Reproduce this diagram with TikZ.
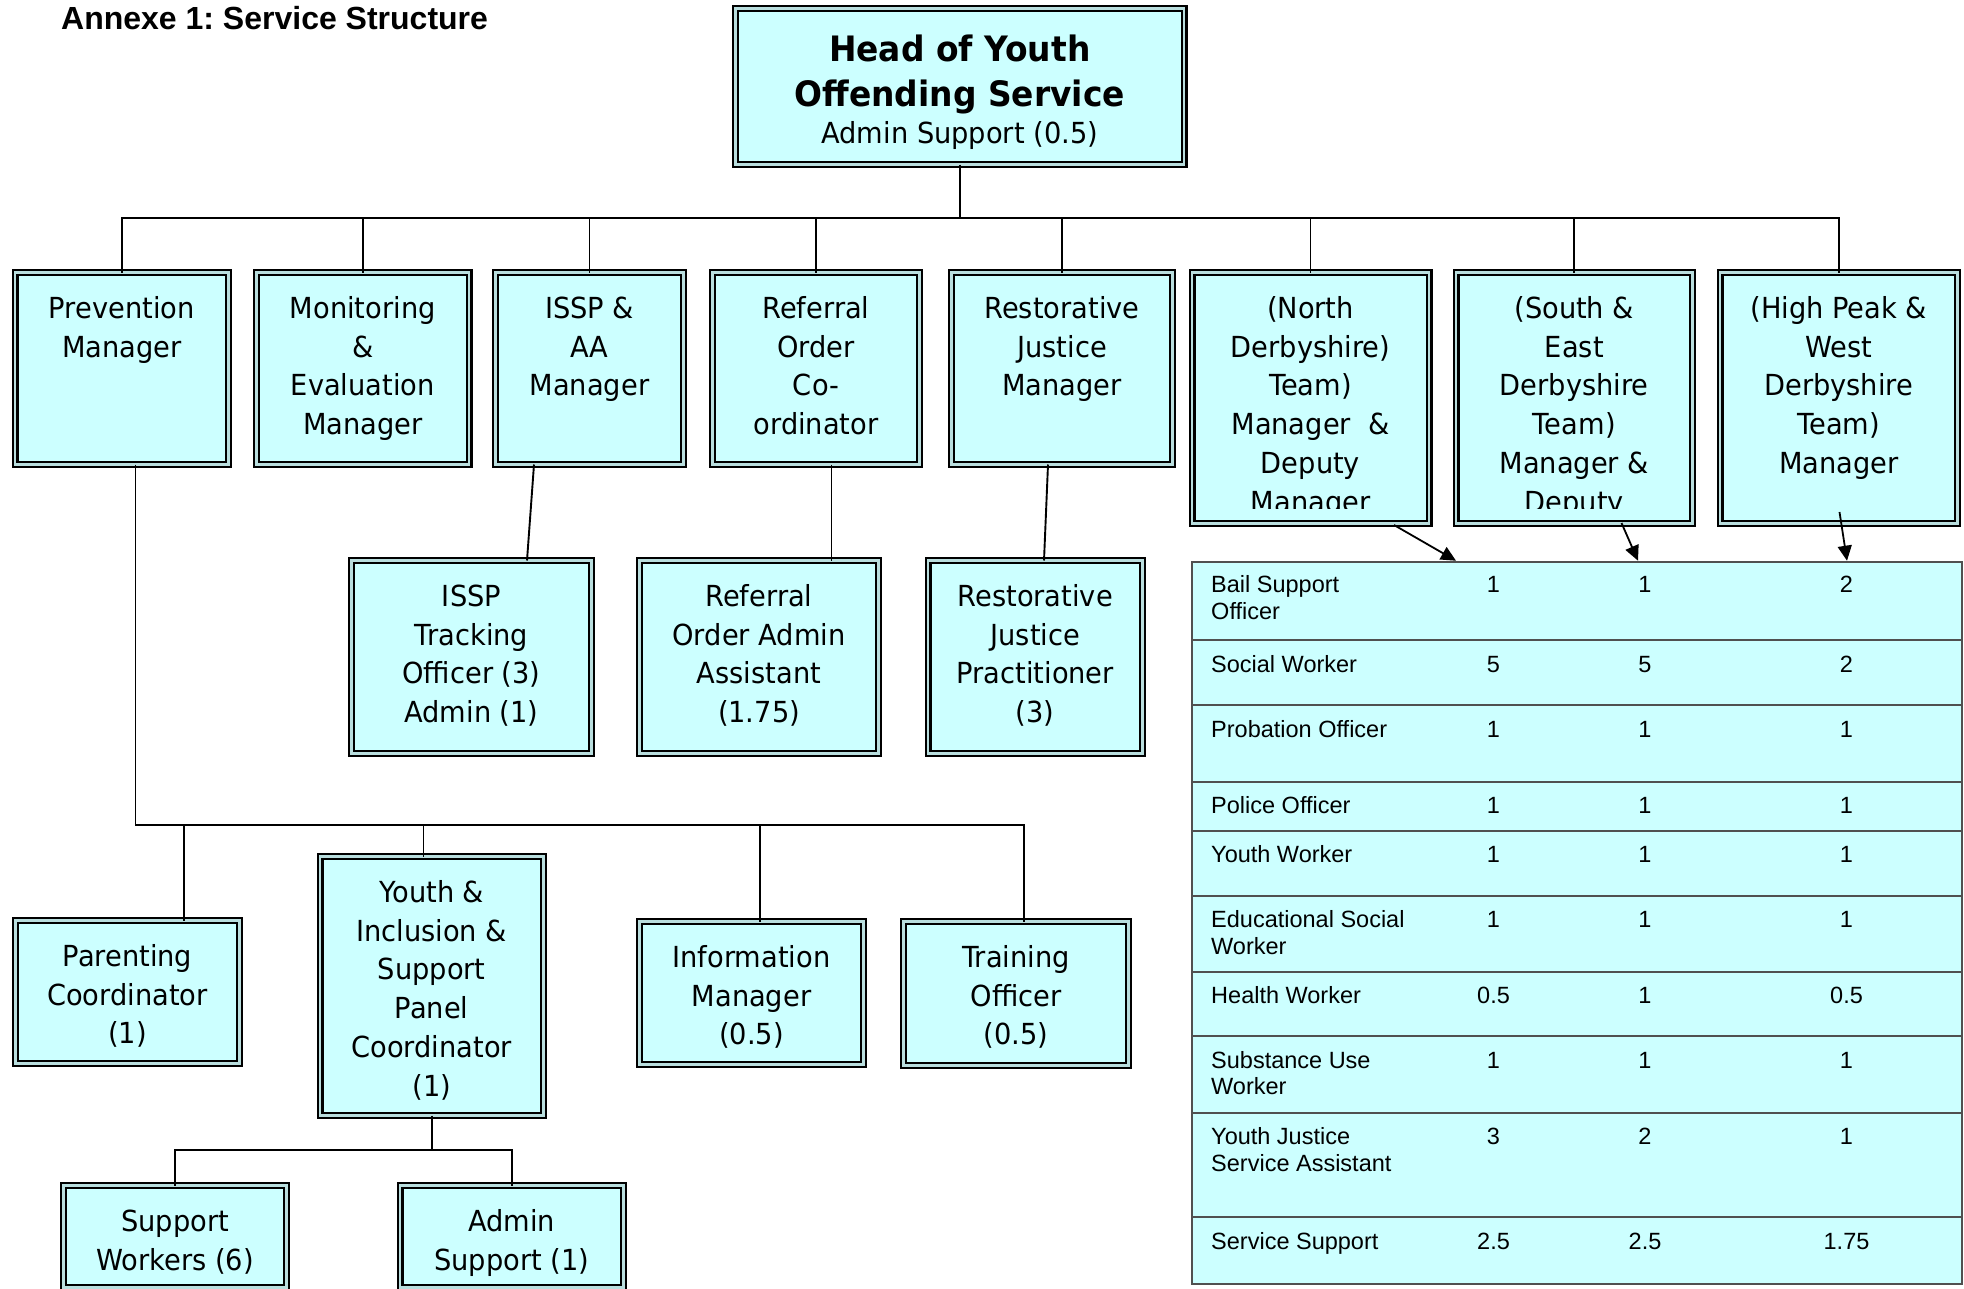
\documentclass[tikz,border=0pt]{standalone}
\usepackage{fontspec}
\setmainfont{DejaVu Sans}[FakeStretch=0.94]
\newfontfamily\arialfont{Liberation Sans}
\usetikzlibrary{arrows.meta,calc}
\frenchspacing
\definecolor{boxfill}{RGB}{204,255,255}
\definecolor{gapcol}{RGB}{185,222,222}
\definecolor{tabline}{RGB}{80,80,80}
\tikzset{
  orgbox/.style={draw=black, line width=2.2pt, double=gapcol, double distance=2.6pt,
    fill=boxfill, inner sep=0pt, outer sep=0pt, anchor=north west,
    font=\fontsize{29}{38.7}\selectfont},
  trunk/.style={line width=2.4pt},
  link/.style={line width=1.9pt},
  arr/.style={line width=1.8pt, -{Triangle[length=15pt,width=14pt]}},
  cover/.style={fill=boxfill, draw=none},
  tabbox/.style={draw=tabline, line width=1.8pt, fill=boxfill, inner sep=0pt,
    anchor=north west, minimum width=770pt, minimum height=722pt},
  tabrule/.style={draw=tabline, line width=1.8pt},
  tlabel/.style={anchor=base west, inner sep=0pt, font=\arialfont\fontsize{23.5}{26.5}\selectfont},
  tnum/.style={anchor=base, inner sep=0pt, font=\arialfont\fontsize{23.5}{26.5}\selectfont},
}
\newcommand\obox[6]{%
  \pgfmathsetmacro\bw{#4-#2-7}%
  \pgfmathsetmacro\bh{#5-#3-7}%
  \node[orgbox] (#1) at ({#2+3.5},{#3+3.5})
    {\parbox[t][\bh pt][t]{\bw pt}{\centering\rule{0pt}{46pt}#6\par}};%
}
\begin{document}
\begin{tikzpicture}[x=1pt,y=-1pt]
\useasboundingbox (0,0) rectangle (1964,1288);

% title
\node[anchor=base west, inner sep=0pt, font=\arialfont\bfseries\fontsize{32}{38}\selectfont]
  (title) at (61,29) {Annexe 1: Service Structure};

% head
\node[orgbox] (head) at (735.5,8.5)
  {\parbox[t][156pt][t]{448.5pt}{\centering\rule{0pt}{52.5pt}{\bfseries\fontsize{35}{45}\selectfont Head of Youth\\Offending Service\par}{\fontsize{29}{37}\selectfont Admin Support (0.5)\par}}};

% top row
\obox{prev}{11.5}{269}{232}{468}{Prevention\\Manager}
\obox{mon}{253}{269}{472.5}{468}{Monitoring\\\&\\Evaluation\\Manager}
\obox{issp}{492}{269}{687}{468}{ISSP \&\\AA\\Manager}
\obox{ref}{709}{269}{923}{468}{Referral\\Order\\Co-\\ordinator}
\obox{rj}{948}{269}{1176}{468}{Restorative\\Justice\\Manager}
\obox{north}{1188.5}{269}{1432.5}{527}{(North\\Derbyshire)\\Team)\\Manager~~\&\\Deputy\\Manager}
\obox{south}{1452.5}{269}{1696}{527}{(South \&\\East\\Derbyshire\\Team)\\Manager \&\\Deputy}
\obox{hp}{1716.5}{269}{1961}{527}{(High Peak \&\\West\\Derbyshire\\Team)\\Manager}
\fill[cover] (1195.5,509) rectangle (1425.5,520);
\fill[cover] (1459.5,509) rectangle (1689,520);

% second row
\obox{isspt}{348}{557}{595}{757}{ISSP\\Tracking\\Officer (3)\\Admin (1)}
\obox{refadm}{636}{557}{882}{757}{Referral\\Order Admin\\Assistant\\(1.75)}
\obox{rjp}{924.5}{557}{1146}{757}{Restorative\\Justice\\Practitioner\\(3)}

% third row
\obox{par}{12}{917}{243}{1067}{Parenting\\Coordinator\\(1)}
\obox{youth}{316.5}{853}{547}{1119}{Youth \&\\Inclusion \&\\Support\\Panel\\Coordinator\\(1)}
\obox{info}{636}{918}{867}{1068}{Information\\Manager\\(0.5)}
\obox{train}{900}{918}{1132}{1069}{Training\\Officer\\(0.5)}

% bottom row
\obox{sw}{60}{1182}{290}{1291}{Support\\Workers (6)}
\obox{adm}{396.5}{1182}{627}{1291}{Admin\\Support (1)}

% connectors: top bus
\coordinate (topbus) at (960,218);
\draw[trunk] (head.south) -- (head.south |- topbus);
\draw[trunk] (prev.north) -- (prev.north |- topbus) -- (hp.north |- topbus) -- (hp.north);
\foreach \n in {mon,issp,ref,rj,north,south}
  \draw[link] (\n.north) -- (\n.north |- topbus);

% second-row links
\coordinate (isA) at (534,0);
\coordinate (isB) at (527,0);
\draw[link] (isA |- issp.south) -- (isB |- isspt.north);
\coordinate (rfA) at (831.5,0);
\draw[link] (rfA |- ref.south) -- (rfA |- refadm.north);
\coordinate (rjA) at (1048,0);
\coordinate (rjB) at (1044,0);
\draw[link] (rjA |- rj.south) -- (rjB |- rjp.north);

% prevention subtree
\coordinate (pv1) at (135.5,825);
\coordinate (pv2) at (184,825);
\coordinate (pv3) at (423.5,825);
\coordinate (pv4) at (760,825);
\coordinate (pv5) at (1024,825);
\draw[link] (pv1 |- prev.south) -- (pv1) -- (pv5) -- (pv5 |- train.north);
\draw[link] (pv2) -- (pv2 |- par.north);
\draw[link] (pv3) -- (pv3 |- youth.north);
\draw[link] (pv4) -- (pv4 |- info.north);

% youth subtree
\coordinate (ybus) at (0,1150);
\draw[trunk] (youth.south) -- (youth.south |- ybus);
\draw[link] (sw.north) -- (sw.north |- ybus) -- (adm.north |- ybus) -- (adm.north);

% staffing table
\node[tabbox] (staff) at (1191,560.7) {};
\foreach \y in {640,705,781.7,830.7,895.7,971.7,1036,1112.7,1217}
  \draw[tabrule] (1191,\y) -- (1961,\y);
\foreach \t/\lab/\a/\b/\c [count=\i] in {
  560.7/{Bail Support\\Officer}/1/1/2,
  640/{Social Worker}/5/5/2,
  705/{Probation Officer}/1/1/1,
  781.7/{Police Officer}/1/1/1,
  830.7/{Youth Worker}/1/1/1,
  895.7/{Educational Social\\Worker}/1/1/1,
  971.7/{Health Worker}/0.5/1/0.5,
  1036/{Substance Use\\Worker}/1/1/1,
  1112.7/{Youth Justice\\Service Assistant}/3/2/1,
  1217/{Service Support}/2.5/2.5/1.75}
{
  \node[tlabel] (lab\i) at (1211,\t+32) {\parbox[t]{270pt}{\raggedright\lab}};
  \node[tnum] (na\i) at (1493.5,\t+32) {\a};
  \node[tnum] (nb\i) at (1645,\t+32) {\b};
  \node[tnum] (nc\i) at (1846.5,\t+32) {\c};
}

% arrows from team managers to table
\coordinate (a1) at (1394,525);
\coordinate (b1) at (1456,0);
\coordinate (a2) at (1621.5,523);
\coordinate (b2) at (1638,0);
\coordinate (a3) at (1839.5,512);
\coordinate (b3) at (1847,0);
\draw[arr] (a1) -- (b1 |- staff.north);
\draw[arr] (a2) -- (b2 |- staff.north);
\draw[arr] (a3) -- (b3 |- staff.north);
\end{tikzpicture}
\end{document}
